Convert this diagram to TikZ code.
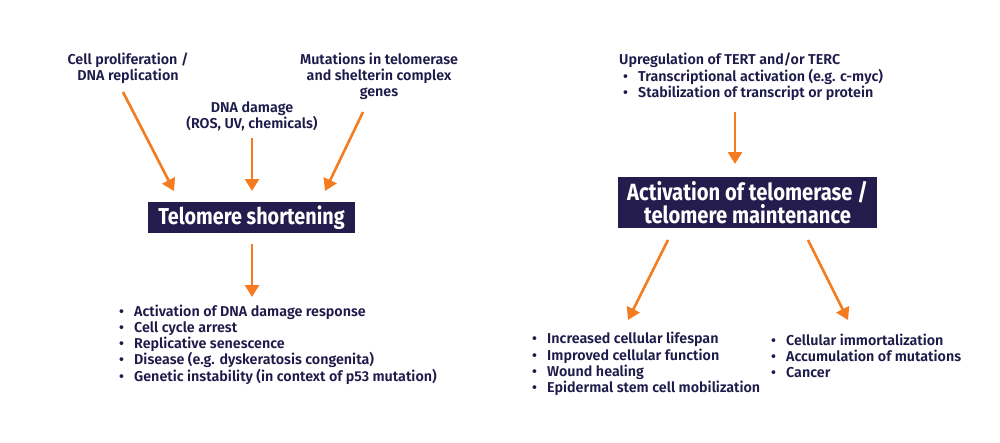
\documentclass[tikz,border=0pt]{standalone}
\usepackage{fontspec}
\usetikzlibrary{arrows.meta}
\newfontfamily\bodyfont{Fira Sans}[UprightFont=* SemiBold]
\newfontfamily\headfont{Fira Sans}[UprightFont=* Bold, FakeStretch=0.86]
\definecolor{navy}{HTML}{1E1A4A}
\definecolor{boxfill}{HTML}{231C4D}
\definecolor{orng}{HTML}{F47B20}
\newcommand{\bul}{\makebox[15pt][l]{\textbullet}}
\begin{document}
\begin{tikzpicture}[x=1pt,y=-1pt,
  txt/.style={text=navy,font=\bodyfont\fontsize{14.3}{16.3}\selectfont,inner sep=0pt,align=center},
  lst/.style={text=navy,font=\bodyfont\fontsize{14.3}{16.3}\selectfont,inner sep=0pt,align=left},
  headbox/.style={fill=boxfill,text=white,font=\headfont\fontsize{23}{20}\selectfont,inner sep=0pt,align=center},
  arr/.style={draw=orng,line width=2.6pt,-{Triangle[width=14pt,length=12pt]}}]
\useasboundingbox[fill=white] (0,0) rectangle (1000,442);
% left part
\node[txt] (c1) at (128,68) {Cell proliferation /\\DNA replication};
\node[txt] (c2) at (252,116) {DNA damage\\(ROS, UV, chemicals)};
\node[txt] (c3) at (379,76.5) {Mutations in telomerase\\and shelterin complex\\genes};
\node[headbox,minimum width=207pt,minimum height=31pt] (ts) at (251.5,217.5) {Telomere shortening};
\node[lst,anchor=west] (o1) at (119,344.5) {\bul Activation of DNA damage response\\\bul Cell cycle arrest\\\bul Replicative senescence\\\bul Disease (e.g. dyskeratosis congenita)\\\bul Genetic instability (in context of p53 mutation)};
\coordinate (a1s) at (123,92); \coordinate (a1e) at (174,191);
\coordinate (a2s) at (252,138); \coordinate (a2e) at (252,191);
\coordinate (a3s) at (363,112); \coordinate (a3e) at (325,191);
\coordinate (a4s) at (252,244); \coordinate (a4e) at (252,297);
\draw[arr] (a1s) -- (a1e);
\draw[arr] (a2s) -- (a2e);
\draw[arr] (a3s) -- (a3e);
\draw[arr] (a4s) -- (a4e);
% right part
\node[lst,anchor=north west] (up) at (619,53) {Upregulation of TERT and/or TERC\\\makebox[4pt]{}\bul Transcriptional activation (e.g. c-myc)\\\makebox[4pt]{}\bul Stabilization of transcript or protein};
\node[headbox,minimum width=259pt,minimum height=51pt,font=\headfont\fontsize{23.5}{20.5}\selectfont] (act) at (747.5,202.5) {Activation of telomerase /\\telomere maintenance};
\node[lst,anchor=west] (oL) at (532,364) {\bul Increased cellular lifespan\\\bul Improved cellular function\\\bul Wound healing\\\bul Epidermal stem cell mobilization};
\node[lst,anchor=west] (oR) at (771,356) {\bul Cellular immortalization\\\bul Accumulation of mutations\\\bul Cancer};
\coordinate (b1s) at (735,112); \coordinate (b1e) at (735,164);
\coordinate (b2s) at (668,240); \coordinate (b2e) at (628,320);
\coordinate (b3s) at (808,240); \coordinate (b3e) at (848,320);
\draw[arr] (b1s) -- (b1e);
\draw[arr] (b2s) -- (b2e);
\draw[arr] (b3s) -- (b3e);
\end{tikzpicture}
\end{document}
